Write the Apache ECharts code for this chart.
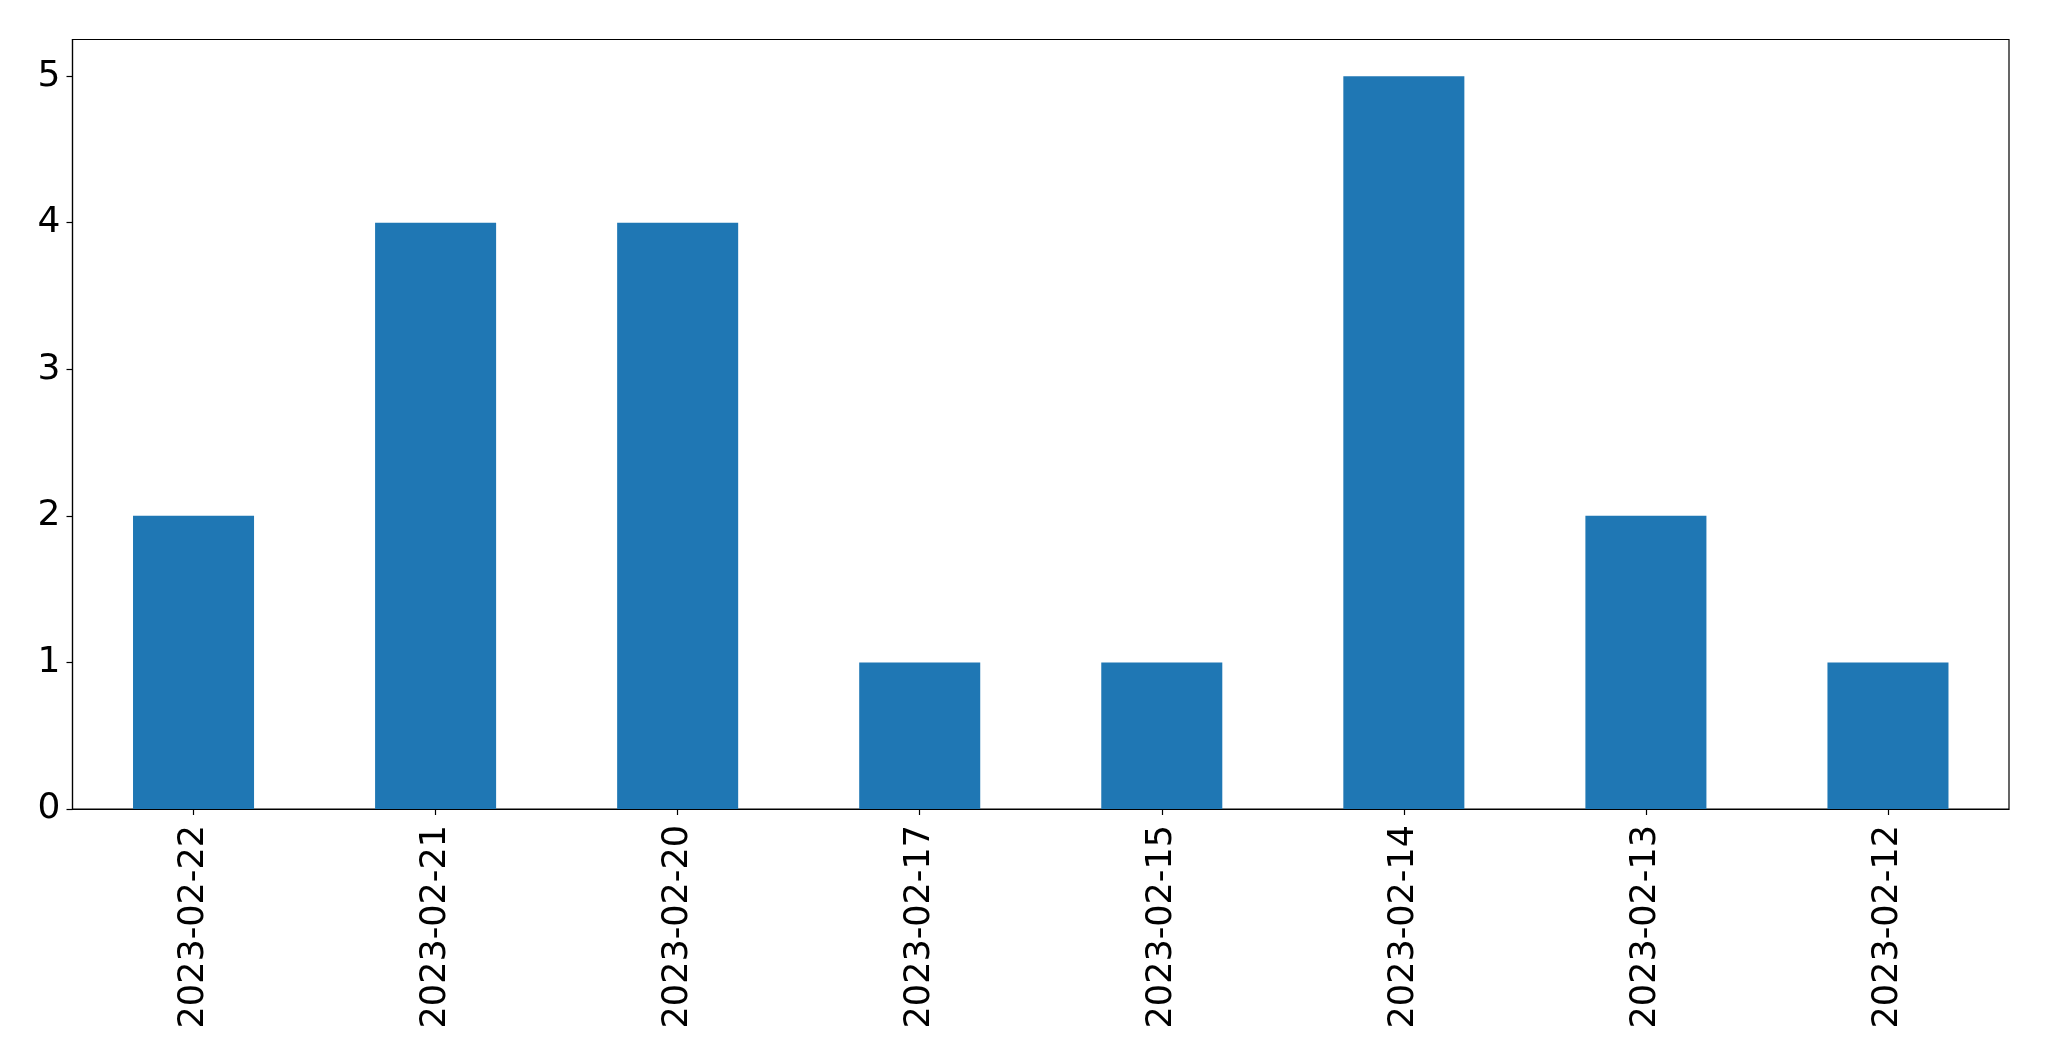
<!DOCTYPE html>
<html>
<head>
<meta charset="utf-8">
<script src="https://cdn.jsdelivr.net/npm/echarts@6/dist/echarts.min.js"></script>
<style>html,body{margin:0;padding:0;background:#fff}#c{width:2049px;height:1061px}</style>
</head>
<body>
<div id="c"></div>
<script>
const categories = ["2023-02-22","2023-02-21","2023-02-20","2023-02-17","2023-02-15","2023-02-14","2023-02-13","2023-02-12"];
const counts = [2, 4, 4, 1, 1, 5, 2, 1];
const yTicks = [0, 1, 2, 3, 4, 5];

const chart = echarts.init(document.getElementById('c'), null, {renderer: 'canvas'});
chart.setOption({
  animation: false,
  backgroundColor: '#ffffff',
  grid: {left: 72.5, right: 40, top: 39.5, bottom: 252, show: true, borderColor: '#000', borderWidth: 1.2, backgroundColor: 'transparent'},
  xAxis: {
    type: 'category',
    data: categories,
    boundaryGap: true,
    axisLine: {show: true, lineStyle: {color: '#000', width: 1.2}},
    axisTick: {show: true, alignWithLabel: true, length: 6, lineStyle: {color: '#000', width: 1.2}},
    axisLabel: {rotate: 90, margin: 16, fontSize: 35, color: '#000', fontFamily: 'DejaVu Sans', interval: 0}
  },
  yAxis: {
    type: 'value',
    min: 0,
    max: 5.25,
    interval: 1,
    splitLine: {show: false},
    axisLine: {show: true, lineStyle: {color: '#000', width: 1.2}},
    axisTick: {show: true, length: 6, lineStyle: {color: '#000', width: 1.2}},
    axisLabel: {
      margin: 12, fontSize: 36, color: '#000', fontFamily: 'DejaVu Sans',
      formatter: function (v) { return yTicks.indexOf(v) >= 0 ? String(v) : ''; },
      showMaxLabel: false
    }
  },
  series: [{
    type: 'bar',
    data: counts,
    barWidth: '50%',
    itemStyle: {color: '#1f77b4'}
  }]
});
</script>
</body>
</html>
